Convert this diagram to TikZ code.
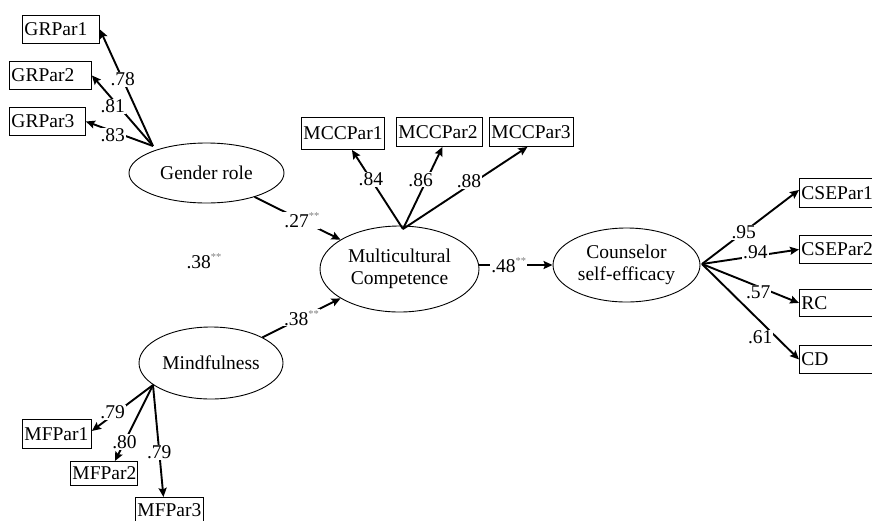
\documentclass[tikz,border=0pt]{standalone}
\usepackage{fontspec}
\setmainfont{Liberation Serif}
\usetikzlibrary{arrows.meta,shapes.geometric}
\newcommand{\sig}{\raisebox{8pt}{\fontsize{10.5}{10.5}\selectfont\color{black!50}**}}
\begin{document}
\begin{tikzpicture}[x=1pt,y=-1pt,
  font=\fontsize{19.5}{22}\selectfont,
  lat/.style={ellipse,draw,line width=0.9pt,inner sep=0pt,align=center},
  obs/.style={rectangle,draw,line width=0.9pt,inner xsep=2pt,inner ysep=0pt,align=left,anchor=north west},
  arr/.style={line width=1.9pt,-{Stealth[length=9pt,width=8pt,inset=1.5pt]}},
  lbl/.style={fill=white,inner sep=1pt}
]
\useasboundingbox (0,0) rectangle (872,520);
\clip (0,0) rectangle (872,520);

% observed indicators
\node[obs,text width=73pt,minimum height=28pt] (gr1) at (22,15) {GRPar1};
\node[obs,text width=78pt,minimum height=28pt] (gr2) at (9,61) {GRPar2};
\node[obs,text width=72pt,minimum height=28pt] (gr3) at (9,107) {GRPar3};
\node[obs,text width=79pt,minimum height=32pt] (mcc1) at (301,117) {MCCPar1};
\node[obs,text width=82pt,minimum height=29pt] (mcc2) at (396,117) {MCCPar2};
\node[obs,text width=80pt,minimum height=29pt] (mcc3) at (489,117) {MCCPar3};
\node[obs,text width=80pt,minimum height=29pt] (cse1) at (799,178) {CSEPar1};
\node[obs,text width=80pt,minimum height=28pt] (cse2) at (799,235) {CSEPar2};
\node[obs,text width=80pt,minimum height=27pt] (rc) at (799,289) {RC};
\node[obs,text width=80pt,minimum height=28pt] (cd) at (799,345) {CD};
\node[obs,text width=65pt,minimum height=29pt] (mf1) at (22,419) {MFPar1};
\node[obs,text width=63pt,minimum height=24pt] (mf2) at (70,461) {MFPar2};
\node[obs,text width=64pt,minimum height=26pt] (mf3) at (135,497) {MFPar3};

% latent variables
\node[lat,minimum width=155pt,minimum height=60pt] (gr) at (206.5,173) {Gender role};
\node[lat,minimum width=159pt,minimum height=86pt] (mcc) at (399.5,269) {Multicultural\\Competence};
\node[lat,minimum width=147pt,minimum height=74pt] (cse) at (626.5,265) {Counselor\\self-efficacy};
\node[lat,minimum width=144pt,minimum height=72pt] (mf) at (211,363) {Mindfulness};

% origins of loading arrows
\coordinate (grO) at (153,146);
\coordinate (mccO) at (403,229);
\coordinate (cseO) at (702,264);
\coordinate (mfO) at (153,385);

% Gender role loadings
\draw[arr] (grO) -- node[lbl,pos=0.57]{.78} (gr1.east);
\draw[arr] (grO) -- node[lbl,pos=0.56,xshift=-6pt]{.81} (gr2.east);
\draw[arr] (grO) -- node[lbl,pos=0.6,yshift=-4pt]{.83} (gr3.east);

% MCC loadings
\draw[arr] (mccO) -- node[lbl,pos=0.63]{.84} ([xshift=9pt]mcc1.south);
\draw[arr] (mccO) -- node[lbl,pos=0.6,xshift=-6pt]{.86} ([xshift=3pt]mcc2.south);
\draw[arr] (mccO) -- node[lbl,pos=0.53,yshift=4pt]{.88} ([xshift=-4pt]mcc3.south);

% CSE loadings
\draw[arr] (cseO) -- node[lbl,pos=0.43]{.95} ([yshift=3pt]cse1.west);
\draw[arr] (cseO) -- node[lbl,pos=0.55,yshift=4pt]{.94} (cse2.west);
\draw[arr] (cseO) -- node[lbl,pos=0.58,yshift=-6pt]{.57} (rc.west);
\draw[arr] (cseO) -- node[lbl,pos=0.6,yshift=-16pt]{.61} (cd.west);

% Mindfulness loadings
\draw[arr] (mfO) -- node[lbl,pos=0.66,yshift=3pt]{.79} ([yshift=3pt]mf1.east);
\draw[arr] (mfO) -- node[lbl,pos=0.75]{.80} ([xshift=11pt]mf2.north);
\draw[arr] (mfO) -- node[lbl,pos=0.6]{.79} ([xshift=-6pt]mf3.north);

% structural paths
\draw[arr] (gr) -- node[lbl,pos=0.55]{.27\sig} (mcc);
\draw[arr] (mf) -- node[lbl,pos=0.5]{.38\sig} (mcc);
\draw[arr] (mcc.east |- cse.west) -- node[lbl,pos=0.4]{.48\sig} (cse.west);

% correlation
\node (corr) at (204,261) {.38\sig};
\end{tikzpicture}
\end{document}
